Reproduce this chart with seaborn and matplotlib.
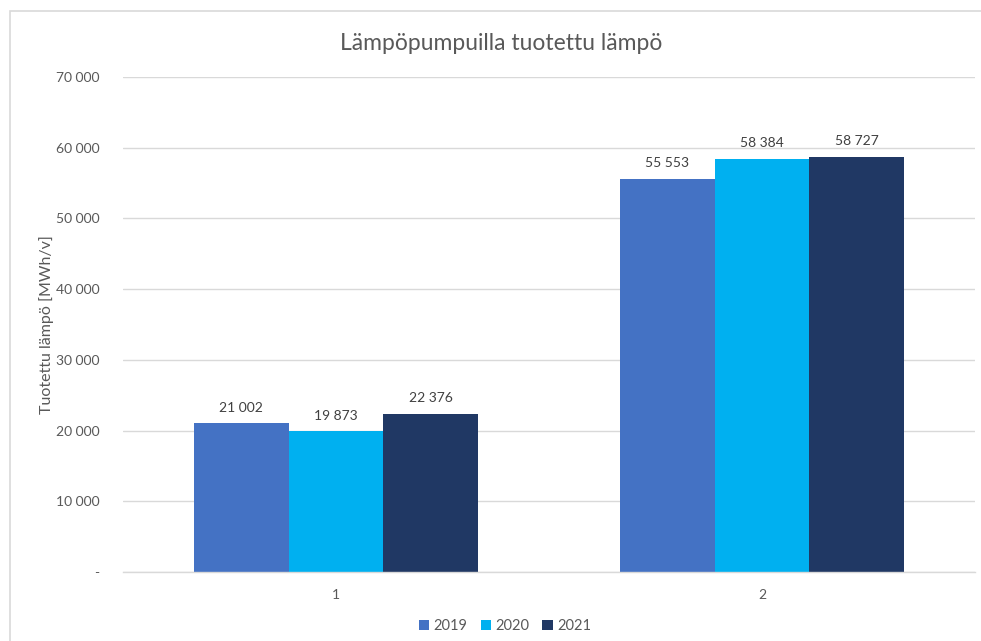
import matplotlib.pyplot as plt
import matplotlib.patches as mpatches
import seaborn as sns
import pandas as pd

categories = ["1", "2"]
years = ["2019", "2020", "2021"]
values_2019 = [21002, 55553]
values_2020 = [19873, 58384]
values_2021 = [22376, 58727]
colors = ["#4472C4", "#00B0F0", "#203864"]
yticks = [0, 10000, 20000, 30000, 40000, 50000, 60000, 70000]


def fmt(v):
    if v == 0:
        return "-"
    return f"{int(v):,}".replace(",", " ")


rows = []
for year, vals in zip(years, [values_2019, values_2020, values_2021]):
    for cat, v in zip(categories, vals):
        rows.append({"cat": cat, "year": year, "value": v})
df = pd.DataFrame(rows)

sns.set_theme(style="white")
plt.rcParams["font.family"] = ["Lato", "DejaVu Sans"]
text_color = "#595959"

fig = plt.figure(figsize=(9.81, 6.41), dpi=100)
ax = fig.add_axes([123 / 981, 69 / 641, 852 / 981, 495 / 641])

sns.barplot(data=df, x="cat", y="value", hue="year", palette=colors,
            width=0.667, gap=0, saturation=1, linewidth=0, ax=ax, legend=True)

ax.set_ylim(0, 70000)
ax.set_yticks(yticks)
ax.set_yticklabels([fmt(t) for t in yticks], color=text_color, fontsize=10)
ax.tick_params(axis="x", colors=text_color, labelsize=10, length=0, pad=12)
ax.tick_params(axis="y", length=0, pad=17)
ax.yaxis.grid(True, color="#D9D9D9", linewidth=1)
ax.set_axisbelow(True)
for s in ["top", "right", "left"]:
    ax.spines[s].set_visible(False)
ax.spines["bottom"].set_color("#D9D9D9")
ax.spines["bottom"].set_linewidth(1)

ax.set_xlabel("")
ax.set_ylabel("Tuotettu lämpö [MWh/v]", color=text_color, fontsize=11.5, labelpad=1)
fig.text(501 / 981, 1 - 44 / 641, "Lämpöpumpuilla tuotettu lämpö", color=text_color,
         fontsize=16.5, ha="center", va="center")

for container in ax.containers:
    ax.bar_label(container, labels=[fmt(b.get_height()) for b in container],
                 padding=7, color="#404040", fontsize=10)

ax.legend(loc="center", bbox_to_anchor=(505 / 981, 1 - 626 / 641), bbox_transform=fig.transFigure,
          ncol=3, frameon=False, fontsize=10.5, labelcolor=text_color,
          handlelength=0.7, handleheight=0.7, handletextpad=0.3, columnspacing=0.9)

# chart border
fig.patches.append(mpatches.Rectangle((10 / 981, -0.1), 1.1, (641 - 11) / 641 + 0.1,
                                      transform=fig.transFigure, fill=False,
                                      edgecolor="#D9D9D9", linewidth=1.2))

fig.savefig("out.png", dpi=100)
plt.close(fig)
